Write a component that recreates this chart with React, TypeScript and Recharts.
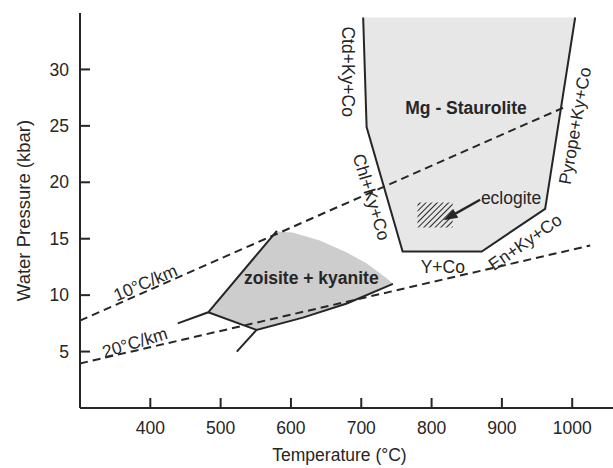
import React from 'react';
import { ComposedChart, XAxis, YAxis, Line, Area, Scatter, ReferenceArea } from 'recharts';

// ---- Data ----
const TEMP_TICKS = [400, 500, 600, 700, 800, 900, 1000];
const PRESSURE_TICKS = [5, 10, 15, 20, 25, 30];

// Mg-staurolite field boundary
const stauroliteT = [702.7, 707.6, 758.8, 871.3, 961.5, 1004.2];
const stauroliteP = [34.6, 24.9, 13.87, 13.87, 17.65, 34.6];
const STAUROLITE_TOP = 34.6;

// zoisite + kyanite shaded field
const zoisiteFillT = [482.3, 551, 578.4, 602.6, 641, 679.5, 708, 736.5, 745];
const zoisiteLowerP = [8.48, 6.92, 7.35, 7.8, 8.5, 9.26, 10.0, 10.75, 11.0];
const zoisiteUpperP = [8.48, 13.6, 15.64, 15.55, 14.84, 13.78, 12.8, 11.47, 11.0];

// zoisite + kyanite solid reaction lines
const zoisiteUpperLineT = [439, 482.3, 580];
const zoisiteUpperLineP = [7.5, 8.48, 15.7];
const zoisiteLowerLineT = [482.3, 551, 616.9, 679.5, 745];
const zoisiteLowerLineP = [8.48, 6.92, 8.01, 9.26, 11.0];
const zoisiteStubT = [523, 551];
const zoisiteStubP = [5.0, 6.92];

// geotherms
const geotherm10T = [300, 987];
const geotherm10P = [7.75, 26.6];
const geotherm20T = [300, 1025.6];
const geotherm20P = [3.95, 14.4];

// eclogite box and arrow
const eclogiteT = [780, 830];
const eclogiteP = [16, 18.2];
const arrowT = [869, 832];
const arrowP = [18.45, 17.15];

// annotation labels
const labelTexts = ['Mg - Staurolite', 'zoisite + kyanite', 'eclogite', 'Y+Co', 'En+Ky+Co', 'Ctd+Ky+Co', 'Chl+Ky+Co', 'Pyrope+Ky+Co', '10°C/km', '20°C/km'];
const labelT = [849, 629, 913, 816, 933, 681, 714.4, 1004, 393, 378];
const labelP = [26.6, 11.5, 18.6, 12.45, 14.7, 29.8, 18.7, 25.0, 11.1, 5.8];
const labelAngle = [0, 0, 0, 0, -35, 90, 73, -80, -23, -17];
const labelBold = [true, true, false, false, false, false, false, false, false, false];

// ---- helpers ----
const zip = (ts: number[], ps: number[]) => ts.map((t, i) => ({ t, p: ps[i] }));
const stauroliteLine = zip(stauroliteT, stauroliteP);
const stauroliteFill = stauroliteT.map((t, i) => ({ t, range: [stauroliteP[i], STAUROLITE_TOP] }));
const zoisiteFill = zoisiteFillT.map((t, i) => ({ t, range: [zoisiteLowerP[i], zoisiteUpperP[i]] }));
const labels = labelTexts.map((text, i) => ({ t: labelT[i], p: labelP[i], text, angle: labelAngle[i], bold: labelBold[i] }));

const W = 613;
const H = 468;
const FONT = '"Liberation Sans", Arial, Helvetica, sans-serif';
const INK = '#262626';
const TICK_FONT = 17.5;

const XTick = (props: any) => {
  const { x, y, payload } = props;
  return (
    <g>
      <line x1={x} x2={x} y1={y} y2={y - 10} stroke={INK} strokeWidth={2} />
      <text x={x} y={y + 14} dy="0.71em" textAnchor="middle" fontSize={TICK_FONT} fontFamily={FONT} fill={INK}>
        {payload.value}
      </text>
    </g>
  );
};

const YTick = (props: any) => {
  const { x, y, payload } = props;
  return (
    <g>
      <line x1={x} x2={x + 10} y1={y} y2={y} stroke={INK} strokeWidth={2} />
      <text x={x - 11} y={y} dy="0.355em" textAnchor="end" fontSize={TICK_FONT} fontFamily={FONT} fill={INK}>
        {payload.value}
      </text>
    </g>
  );
};

const LabelShape = (props: any) => {
  const { cx, cy, payload } = props;
  return (
    <text
      x={cx}
      y={cy}
      transform={`rotate(${payload.angle}, ${cx}, ${cy})`}
      textAnchor="middle"
      dominantBaseline="central"
      fontSize={17.5}
      fontWeight={payload.bold ? 'bold' : 'normal'}
      fontFamily={FONT}
      fill={INK}
    >
      {payload.text}
    </text>
  );
};

export default function App() {
  return (
    <div style={{ position: 'absolute', left: 0, top: 0, background: '#fff' }}>
      <ComposedChart width={W} height={H} margin={{ top: 13, right: 0, left: 0, bottom: 0 }}>
        <defs>
          <pattern id="hatch" width="4" height="4" patternUnits="userSpaceOnUse" patternTransform="rotate(45)">
            <line x1="0" y1="0" x2="0" y2="4" stroke={INK} strokeWidth="2" />
          </pattern>
          <marker id="arrowHead" markerWidth="14" markerHeight="10" refX="2" refY="5" orient="auto" markerUnits="userSpaceOnUse">
            <path d="M0,0 L14,5 L0,10 z" fill={INK} />
          </marker>
        </defs>
        <XAxis
          dataKey="t"
          type="number"
          domain={[300, 1058]}
          ticks={TEMP_TICKS}
          allowDataOverflow
          height={60}
          tickSize={0}
          tickMargin={0}
          tick={<XTick />}
          axisLine={{ stroke: INK, strokeWidth: 2 }}
          label={{ value: 'Temperature (°C)', position: 'insideBottom', offset: 7, dx: -7, style: { fontSize: 17.5, fill: INK, fontFamily: FONT } }}
        />
        <YAxis
          dataKey="p"
          type="number"
          domain={[0, 35]}
          ticks={PRESSURE_TICKS}
          allowDataOverflow
          width={80}
          tickSize={0}
          tickMargin={0}
          tick={<YTick />}
          axisLine={{ stroke: INK, strokeWidth: 2 }}
          label={{ value: 'Water Pressure (kbar)', angle: -90, position: 'insideLeft', offset: 18, dx: 5, style: { textAnchor: 'middle', fontSize: 18.5, fill: INK, fontFamily: FONT } }}
        />
        <Area data={stauroliteFill} dataKey="range" type="linear" stroke="none" fill="#e7e7e7" fillOpacity={1} isAnimationActive={false} />
        <Area data={zoisiteFill} dataKey="range" type="linear" stroke="none" fill="#cdcdcd" fillOpacity={1} isAnimationActive={false} />
        <ReferenceArea x1={eclogiteT[0]} x2={eclogiteT[1]} y1={eclogiteP[0]} y2={eclogiteP[1]} fill="url(#hatch)" fillOpacity={1} stroke="none" />
        <Line data={zip(geotherm10T, geotherm10P)} dataKey="p" type="linear" stroke={INK} strokeWidth={2} strokeDasharray="8 5" dot={false} isAnimationActive={false} />
        <Line data={zip(geotherm20T, geotherm20P)} dataKey="p" type="linear" stroke={INK} strokeWidth={2} strokeDasharray="8 5" dot={false} isAnimationActive={false} />
        <Line data={stauroliteLine} dataKey="p" type="linear" stroke={INK} strokeWidth={2} dot={false} isAnimationActive={false} />
        <Line data={zip(zoisiteUpperLineT, zoisiteUpperLineP)} dataKey="p" type="linear" stroke={INK} strokeWidth={2} dot={false} isAnimationActive={false} />
        <Line data={zip(zoisiteLowerLineT, zoisiteLowerLineP)} dataKey="p" type="linear" stroke={INK} strokeWidth={2} dot={false} isAnimationActive={false} />
        <Line data={zip(zoisiteStubT, zoisiteStubP)} dataKey="p" type="linear" stroke={INK} strokeWidth={2} dot={false} isAnimationActive={false} />
        <Line data={zip(arrowT, arrowP)} dataKey="p" type="linear" stroke={INK} strokeWidth={2.5} dot={false} markerEnd="url(#arrowHead)" isAnimationActive={false} />
        <Scatter data={labels} dataKey="p" shape={<LabelShape />} isAnimationActive={false} />
      </ComposedChart>
    </div>
  );
}
